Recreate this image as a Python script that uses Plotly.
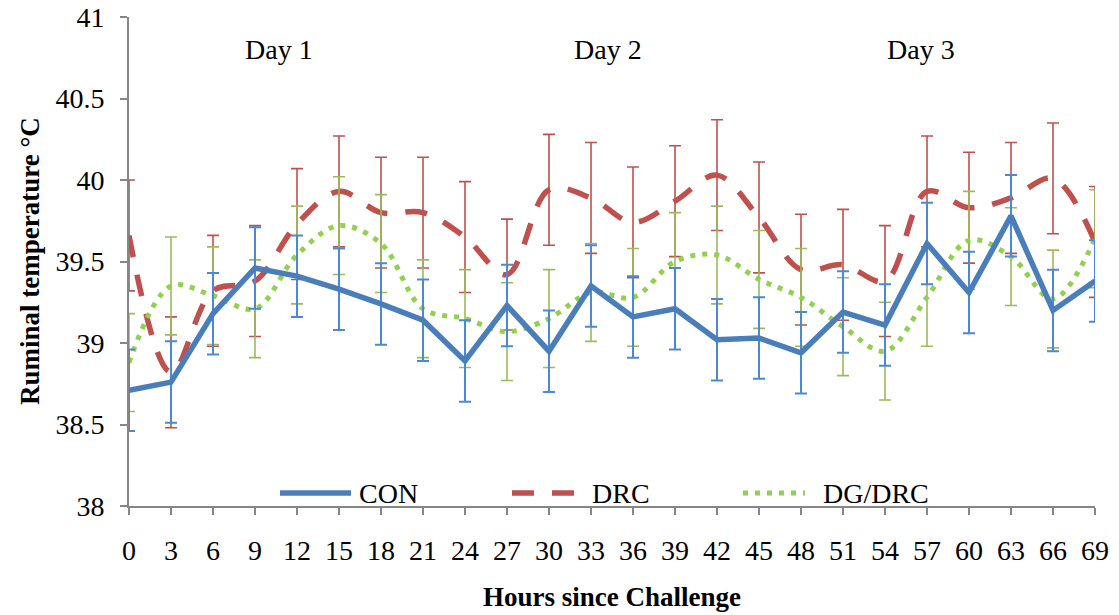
import plotly.graph_objects as go

hours = [0, 3, 6, 9, 12, 15, 18, 21, 24, 27, 30, 33, 36, 39, 42, 45, 48, 51, 54, 57, 60, 63, 66, 69]
con = [38.71, 38.76, 39.18, 39.46, 39.41, 39.33, 39.24, 39.14, 38.89, 39.23, 38.95, 39.35,
       39.16, 39.21, 39.02, 39.03, 38.94, 39.19, 39.11, 39.61, 39.31, 39.78, 39.20, 39.38]
drc = [39.66, 38.82, 39.32, 39.38, 39.73, 39.93, 39.80, 39.80, 39.65, 39.42, 39.94, 39.89,
       39.74, 39.87, 40.03, 39.77, 39.45, 39.48, 39.38, 39.93, 39.83, 39.89, 40.01, 39.62]
dgdrc = [38.88, 39.35, 39.29, 39.21, 39.54, 39.72, 39.61, 39.21, 39.15, 39.07, 39.15, 39.31,
         39.28, 39.50, 39.54, 39.39, 39.28, 39.10, 38.95, 39.28, 39.63, 39.53, 39.27, 39.64]
con_se = [0.25] * 24
drc_se = [0.34] * 24
dgdrc_se = [0.30] * 24
series_names = ["CON", "DRC", "DG/DRC"]
day_labels = ["Day 1", "Day 2", "Day 3"]
day_x = [10.7, 34.2, 56.6]
x_ticks = hours
x_title = "Hours since Challenge"
y_title = "Ruminal temperature °C"

FONT = "Liberation Serif, Times New Roman, serif"
TICK_SIZE = 28
C_CON, C_CON_ERR = "#4A7EBB", "#4A89D6"
C_DRC, C_DRC_ERR = "#C0504D", "#C0504D"
C_DG, C_DG_ERR = "#92D050", "#9BBB59"

fig = go.Figure()
fig.add_trace(go.Scatter(
    x=hours, y=drc, mode="lines", name=series_names[1], showlegend=False,
    line=dict(color=C_DRC, width=5.5, dash="22px,18px", shape="spline", smoothing=1.0),
    error_y=dict(type="data", array=drc_se, visible=True, color=C_DRC_ERR, thickness=1.6, width=6),
))
fig.add_trace(go.Scatter(
    x=hours, y=dgdrc, mode="lines", name=series_names[2], showlegend=False,
    line=dict(color=C_DG, width=5, dash="5px,7px", shape="spline", smoothing=1.0),
    error_y=dict(type="data", array=dgdrc_se, visible=True, color=C_DG_ERR, thickness=1.6, width=6),
))
fig.add_trace(go.Scatter(
    x=hours, y=con, mode="lines", name=series_names[0], showlegend=False,
    line=dict(color=C_CON, width=5.5),
    error_y=dict(type="data", array=con_se, visible=True, color=C_CON_ERR, thickness=2, width=6),
))

W, H = 1119, 615
# plot area in page pixels: x 129..1095, y 17..506
L, R, T, B = 129, 1095, 17, 506
def px(xp):
    return (xp - L) / (R - L)
def py(yp):
    return (B - yp) / (B - T)

shapes = []
annotations = []
leg_y = py(493)
leg = [
    (280, 351, 357, dict(color=C_CON, width=5.5), series_names[0]),
    (512, 574, 590, dict(color=C_DRC, width=5.5, dash="22px,18px"), series_names[1]),
    (743, 805, 821, dict(color=C_DG, width=5, dash="5px,7px"), series_names[2]),
]
for x0, x1, xt, ln, name in leg:
    shapes.append(dict(type="line", xref="paper", yref="paper", x0=px(x0), x1=px(x1),
                       y0=leg_y, y1=leg_y, line=ln))
    annotations.append(dict(text=name, xref="paper", yref="paper", x=px(xt), y=py(493),
                            xanchor="left", yanchor="middle", showarrow=False,
                            font=dict(family=FONT, size=TICK_SIZE, color="black")))
for lab, dx in zip(day_labels, day_x):
    annotations.append(dict(text=lab, x=dx, y=40.8, xref="x", yref="y", showarrow=False,
                            xanchor="center", yanchor="middle",
                            font=dict(family=FONT, size=TICK_SIZE, color="black")))
# axis titles
annotations.append(dict(text="<b>" + x_title + "</b>", xref="paper", yref="paper",
                        x=px(612), y=py(597), xanchor="center", yanchor="middle",
                        showarrow=False, font=dict(family=FONT, size=27, color="black")))
annotations.append(dict(text="<b>" + y_title + "</b>", xref="paper", yref="paper",
                        x=px(30), y=py(261), xanchor="center", yanchor="middle", textangle=-90,
                        showarrow=False, font=dict(family=FONT, size=27, color="black")))

fig.update_layout(
    width=W, height=H,
    margin=dict(l=L, r=W - R, t=T, b=H - B, autoexpand=False),
    paper_bgcolor="white", plot_bgcolor="white",
    font=dict(family=FONT, size=TICK_SIZE, color="black"),
    shapes=shapes, annotations=annotations,
    showlegend=False,
)
fig.update_xaxes(
    range=[0, 69], tickvals=x_ticks, ticktext=[str(v) for v in x_ticks],
    showgrid=False, zeroline=False, showline=True, linecolor="#868686", linewidth=2,
    ticks="outside", ticklen=7, tickwidth=2, tickcolor="#868686",
    ticklabelstandoff=11, automargin=False, ticklabeloverflow="allow",
)
fig.update_yaxes(
    range=[38, 41], dtick=0.5, tick0=38,
    showgrid=False, zeroline=False, showline=True, linecolor="#868686", linewidth=2,
    ticks="outside", ticklen=7, tickwidth=2, tickcolor="#868686",
    ticklabelstandoff=10, automargin=False, ticklabeloverflow="allow",
)

fig.write_html(
    "out.html",
    config={"displayModeBar": False},
    post_script="document.body.style.margin='0';document.body.style.overflow='hidden';",
)
